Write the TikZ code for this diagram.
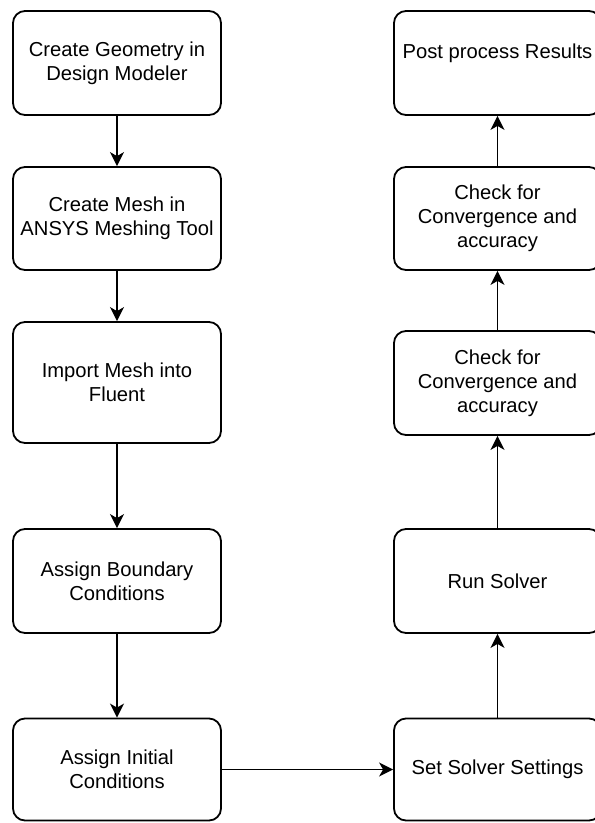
\documentclass[tikz,border=0pt]{standalone}
\usepackage{fontspec}
\setmainfont{Liberation Sans}
\usetikzlibrary{arrows.meta}
\begin{document}
\begin{tikzpicture}[x=1pt,y=-1pt,
  box/.style={draw=black,line width=1.8pt,rounded corners=12pt,fill=white,
    align=center,inner sep=0pt,minimum width=208pt,
    font=\fontsize{20.2}{24}\selectfont},
  arr/.style={line width=1.8pt,-{Stealth[length=14pt,width=14pt,inset=4pt]}}]
\useasboundingbox (0,0) rectangle (595,823);
\fill[white] (0,0) rectangle (595,823);
\node[box,minimum height=104pt] (l1) at (117,63) {Create Geometry in\\Design Modeler};
\node[box,minimum height=103pt] (l2) at (117,218.5) {Create Mesh in\\ANSYS Meshing Tool};
\node[box,minimum height=121pt] (l3) at (117,382.5) {Import Mesh into\\Fluent};
\node[box,minimum height=104pt] (l4) at (117,581) {Assign Boundary\\Conditions};
\node[box,minimum height=102pt] (l5) at (117,769.5) {Assign Initial\\Conditions};
\node[box,minimum width=207pt,minimum height=104pt] (r1) at (497.5,63) {Post process Results\\~};
\node[box,minimum width=207pt,minimum height=103pt] (r2) at (497.5,218.5) {Check for\\Convergence and\\accuracy};
\node[box,minimum width=207pt,minimum height=104pt] (r3) at (497.5,383) {Check for\\Convergence and\\accuracy};
\node[box,minimum width=207pt,minimum height=104pt] (r4) at (497.5,581) {Run Solver};
\node[box,minimum width=207pt,minimum height=102pt] (r5) at (497.5,769.5) {Set Solver Settings};
\draw[arr] (l1) -- (l2);
\draw[arr] (l2) -- (l3);
\draw[arr] (l3) -- (l4);
\draw[arr] (l4) -- (l5);
\draw[arr] (l5) -- (r5);
\draw[arr] (r5) -- (r4);
\draw[arr] (r4) -- (r3);
\draw[arr] (r3) -- (r2);
\draw[arr] (r2) -- (r1);
\end{tikzpicture}
\end{document}
